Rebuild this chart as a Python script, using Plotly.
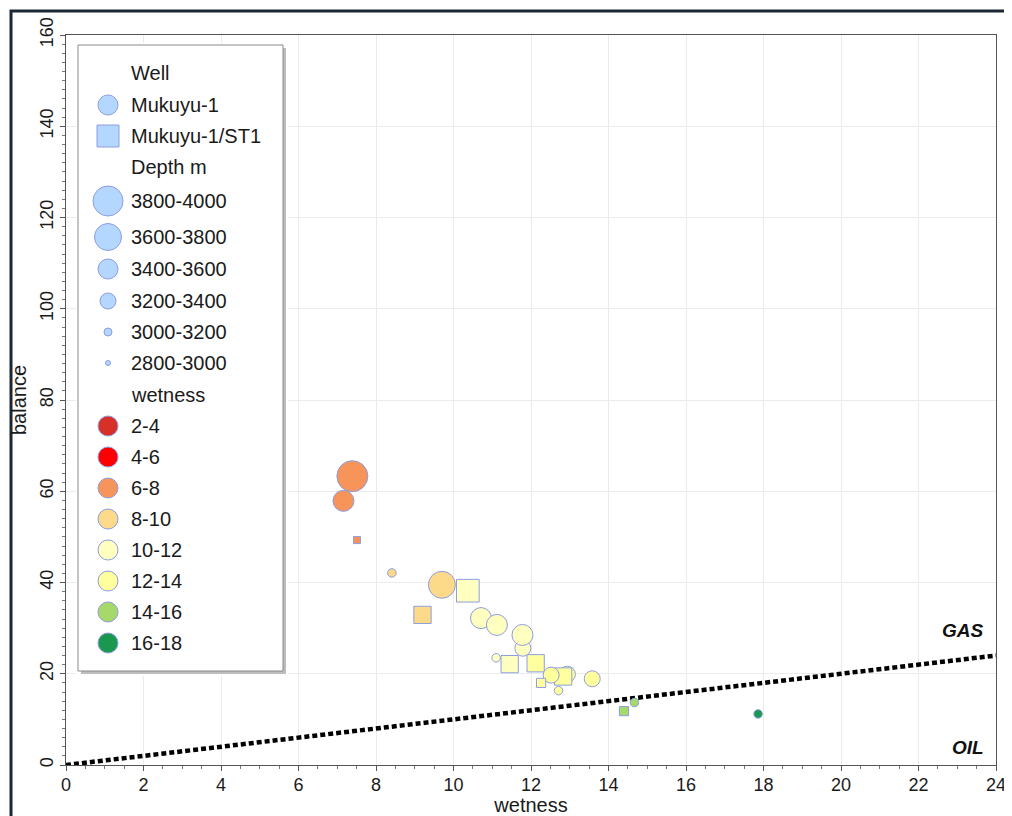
import plotly.graph_objects as go

# ---------------- data ----------------
wetness = [7.39, 7.16, 7.51, 8.41, 9.70, 10.37, 9.20, 10.71, 11.12, 11.79, 11.78, 11.10,
           11.45, 12.12, 12.94, 12.83, 12.52, 12.26, 12.71, 13.58, 14.67, 14.40, 17.86]
balance = [63.3, 57.9, 49.3, 42.1, 39.5, 38.2, 32.9, 32.2, 30.7, 25.6, 28.5, 23.5,
           22.1, 22.3, 19.9, 19.4, 19.7, 18.0, 16.3, 18.9, 13.7, 11.8, 11.2]
well = ["Mukuyu-1", "Mukuyu-1", "Mukuyu-1/ST1", "Mukuyu-1", "Mukuyu-1", "Mukuyu-1/ST1",
        "Mukuyu-1/ST1", "Mukuyu-1", "Mukuyu-1", "Mukuyu-1", "Mukuyu-1", "Mukuyu-1",
        "Mukuyu-1/ST1", "Mukuyu-1/ST1", "Mukuyu-1", "Mukuyu-1/ST1", "Mukuyu-1",
        "Mukuyu-1/ST1", "Mukuyu-1", "Mukuyu-1", "Mukuyu-1", "Mukuyu-1/ST1", "Mukuyu-1"]
depth = ["3800-4000", "3400-3600", "2800-3000", "3000-3200", "3600-3800", "3400-3600",
         "3200-3400", "3400-3600", "3400-3600", "3200-3400", "3400-3600", "3000-3200",
         "3200-3400", "3200-3400", "3200-3400", "3200-3400", "3200-3400", "3000-3200",
         "3000-3200", "3200-3400", "3000-3200", "3000-3200", "3000-3200"]

well_names = ["Mukuyu-1", "Mukuyu-1/ST1"]
depth_classes = ["3800-4000", "3600-3800", "3400-3600", "3200-3400", "3000-3200", "2800-3000"]
wet_bins = ["2-4", "4-6", "6-8", "8-10", "10-12", "12-14", "14-16", "16-18"]
wet_bin_lo = [2, 4, 6, 8, 10, 12, 14, 16]

gas_oil_x = [0, 24]
gas_oil_y = [0, 24]

# ---------------- styles ----------------
depth_size = {"3800-4000": 31, "3600-3800": 27, "3400-3600": 21,
              "3200-3400": 16, "3000-3200": 8.5, "2800-3000": 6.5}
legend_depth_size = {"3800-4000": 30, "3600-3800": 27, "3400-3600": 20,
                     "3200-3400": 16, "3000-3200": 8, "2800-3000": 5}
wet_colors = ["#d73027", "#ff0000", "#f79459", "#fdd98a", "#ffffc0", "#ffff9e", "#a6d96a", "#1a9850"]
symbol_of = {"Mukuyu-1": "circle", "Mukuyu-1/ST1": "square"}
sq_factor = 1.08
edge = "#8e9de2"
font = "Liberation Sans, Arial, sans-serif"
txt = "#1a1a1a"


def wet_color(w):
    idx = 0
    for i, lo in enumerate(wet_bin_lo):
        if w >= lo:
            idx = i
    return wet_colors[idx]


colors = [wet_color(w) for w in wetness]
symbols = [symbol_of[w] for w in well]
sizes = [depth_size[d] * (sq_factor if symbol_of[w] == "square" else 1) for d, w in zip(depth, well)]

# ---------------- geometry (page pixels; page body has an 8px margin) ----------------
OFF = 8
W, H = 1012 - OFF, 816 - OFF
P_L, P_R, P_T, P_B = 66, 996, 35, 765          # plot area in page px
ml, mr, mt, mb = P_L - OFF, (OFF + W) - P_R, P_T - OFF, (OFF + H) - P_B
pw, ph = P_R - P_L, P_B - P_T


def pxx(px):
    return (px - P_L) / pw


def pxy(py):
    return (P_B - py) / ph


fig = go.Figure()

# gas/oil boundary
fig.add_trace(go.Scatter(x=gas_oil_x, y=gas_oil_y, mode="lines",
                         line=dict(color="black", width=4.5, dash="5px,3px"),
                         hoverinfo="skip", showlegend=False))

# data points
fig.add_trace(go.Scatter(x=wetness, y=balance, mode="markers",
                         marker=dict(color=colors, symbol=symbols, size=sizes,
                                     line=dict(color=edge, width=1), opacity=1),
                         showlegend=False))

# ---------------- custom legend (helper axes in page-pixel units) ----------------
L, R, T, B = 78, 283, 45, 671
DL, DR, DT, DB = L - 2, R + 5, T - 2, B + 5
sym_x = 108
text_x = 129
row_y = {"Well": 73, "Mukuyu-1": 105, "Mukuyu-1/ST1": 136, "Depth m": 167,
         "3800-4000": 201, "3600-3800": 237, "3400-3600": 269, "3200-3400": 301,
         "3000-3200": 332, "2800-3000": 363, "wetness": 395}
wet_row0, wet_step = 426, 31

# shadow
fig.add_trace(go.Scatter(x=[L + 3, R + 3, R + 3, L + 3, L + 3], y=[T + 3, T + 3, B + 3, B + 3, T + 3],
                         xaxis="x2", yaxis="y2", mode="lines", fill="toself",
                         fillcolor="#bdbdbd", line=dict(width=0), hoverinfo="skip", showlegend=False))
# box
fig.add_trace(go.Scatter(x=[L, R, R, L, L], y=[T, T, B, B, T], xaxis="x2", yaxis="y2",
                         mode="lines", fill="toself", fillcolor="white",
                         line=dict(color="#8a8a8a", width=1), hoverinfo="skip", showlegend=False))

leg_x, leg_y, leg_sym, leg_size, leg_col = [], [], [], [], []
for name in well_names:
    leg_x.append(sym_x); leg_y.append(row_y[name]); leg_sym.append(symbol_of[name])
    leg_size.append(20 * (1.1 if symbol_of[name] == "square" else 1)); leg_col.append("#b3d7ff")
for d in depth_classes:
    leg_x.append(sym_x); leg_y.append(row_y[d]); leg_sym.append("circle")
    leg_size.append(legend_depth_size[d]); leg_col.append("#b3d7ff")
for i, b in enumerate(wet_bins):
    leg_x.append(sym_x); leg_y.append(wet_row0 + i * wet_step); leg_sym.append("circle")
    leg_size.append(20); leg_col.append(wet_colors[i])

fig.add_trace(go.Scatter(x=leg_x, y=leg_y, mode="markers", xaxis="x2", yaxis="y2",
                         marker=dict(color=leg_col, symbol=leg_sym, size=leg_size, opacity=1,
                                     line=dict(color=edge, width=1)),
                         hoverinfo="skip", showlegend=False))

labels = ["Well"] + well_names + ["Depth m"] + depth_classes + ["wetness"]
for lab in labels:
    fig.add_annotation(x=text_x, y=row_y[lab], xref="x2", yref="y2", text=lab, showarrow=False,
                       xanchor="left", yanchor="middle", font=dict(family=font, size=20, color=txt))
for i, b in enumerate(wet_bins):
    fig.add_annotation(x=text_x, y=wet_row0 + i * wet_step, xref="x2", yref="y2", text=b, showarrow=False,
                       xanchor="left", yanchor="middle", font=dict(family=font, size=20, color=txt))

# GAS / OIL labels
fig.add_annotation(x=pxx(986), y=pxy(630), xref="paper", yref="paper", text="<b><i>GAS</i></b>",
                   showarrow=False, xanchor="right", yanchor="middle",
                   font=dict(family=font, size=19, color="#111"))
fig.add_annotation(x=pxx(986), y=pxy(747), xref="paper", yref="paper", text="<b><i>OIL</i></b>",
                   showarrow=False, xanchor="right", yanchor="middle",
                   font=dict(family=font, size=19, color="#111"))

shapes = [
    # outer frame
    dict(type="rect", xref="paper", yref="paper", x0=pxx(11), x1=pxx(1040),
         y0=pxy(850), y1=pxy(11), line=dict(color="#1b2833", width=3), layer="above"),
]

fig.update_layout(
    width=W, height=H,
    margin=dict(l=ml, r=mr, t=mt, b=mb, pad=0, autoexpand=False),
    paper_bgcolor="white", plot_bgcolor="white",
    shapes=shapes,
    showlegend=False,
    font=dict(family=font, color=txt),
    xaxis=dict(range=[0, 24], dtick=2, tick0=0, showgrid=True, gridcolor="#ebebeb", gridwidth=1,
               zeroline=False, showline=True, linecolor="#555", linewidth=1, mirror=True,
               automargin=False,
               ticks="outside", ticklen=5, tickcolor="#555", ticklabelstandoff=-2,
               minor=dict(dtick=0.5, ticks="outside", ticklen=3, tickcolor="#777", showgrid=False),
               tickfont=dict(size=18, color=txt),
               title=dict(text="wetness", font=dict(size=20, color=txt), standoff=6)),
    yaxis=dict(range=[0, 160], dtick=20, tick0=0, showgrid=True, gridcolor="#ebebeb", gridwidth=1,
               zeroline=False, showline=True, linecolor="#555", linewidth=1, mirror=True,
               automargin=False,
               ticks="outside", ticklen=5, tickcolor="#555", tickangle=-90,
               minor=dict(dtick=2, ticks="outside", ticklen=3, tickcolor="#777", showgrid=False),
               tickfont=dict(size=18, color=txt),
               title=dict(text="balance", font=dict(size=20, color=txt), standoff=6)),
    xaxis2=dict(domain=[pxx(DL), pxx(DR)], range=[DL, DR], visible=False,
                anchor="y2", fixedrange=True),
    yaxis2=dict(domain=[pxy(DB), pxy(DT)], range=[DB, DT], visible=False,
                anchor="x2", fixedrange=True),
)

fig.write_html("out.html")
